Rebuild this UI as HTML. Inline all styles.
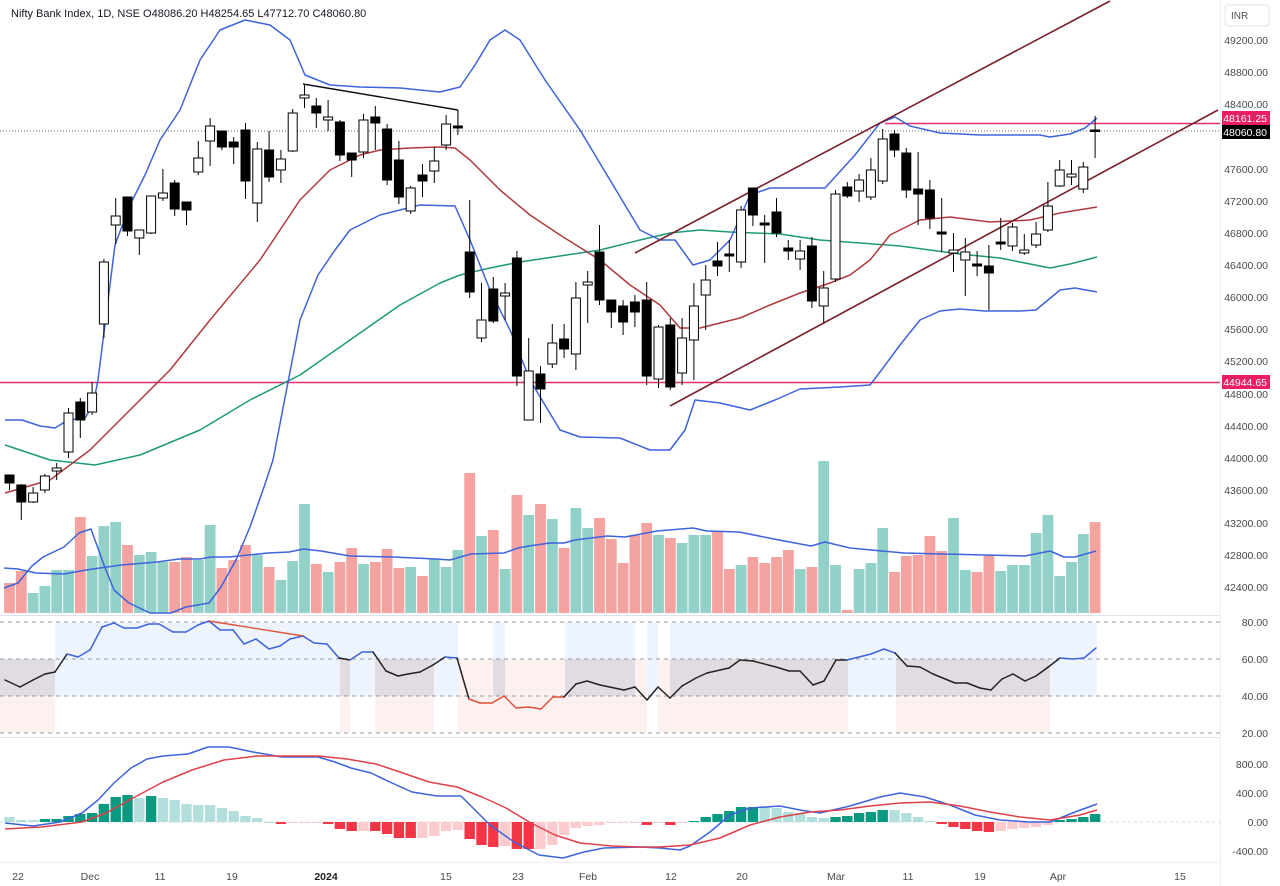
<!DOCTYPE html>
<html><head><meta charset="utf-8"><style>
html,body{margin:0;padding:0;background:#fff;}
svg{display:block;font-family:"Liberation Sans",sans-serif;}
</style></head><body>
<svg id="s" width="1280" height="886" viewBox="0 0 1280 886" xmlns="http://www.w3.org/2000/svg">
<rect width="1280" height="886" fill="#fff"/>
<g id="bg"></g>
<g id="g"></g>
<line x1="0" y1="615.5" x2="1220" y2="615.5" stroke="#e0e3eb"/>
<line x1="0" y1="737.5" x2="1220" y2="737.5" stroke="#e0e3eb"/>
<line x1="1220.5" y1="0" x2="1220.5" y2="886" stroke="#eceef2"/>
<line x1="0" y1="862.5" x2="1220" y2="862.5" stroke="#eceef2"/>
<text x="11" y="17" font-size="11" fill="#131722">Nifty Bank Index, 1D, NSE  O48086.20  H48254.65  L47712.70  C48060.80</text>
<rect x="1225" y="5" width="44" height="21" rx="3" fill="#fff" stroke="#e0e3eb"/>
<text x="1231" y="19" font-size="10" fill="#555">INR</text>
<g font-size="10.5" fill="#4a4a4a" text-anchor="end">
<text x="1268" y="44">49200.00</text>
<text x="1268" y="76">48800.00</text>
<text x="1268" y="108">48400.00</text>
<text x="1268" y="173">47600.00</text>
<text x="1268" y="205">47200.00</text>
<text x="1268" y="237">46800.00</text>
<text x="1268" y="269">46400.00</text>
<text x="1268" y="301">46000.00</text>
<text x="1268" y="333">45600.00</text>
<text x="1268" y="365">45200.00</text>
<text x="1268" y="398">44800.00</text>
<text x="1268" y="430">44400.00</text>
<text x="1268" y="462">44000.00</text>
<text x="1268" y="494">43600.00</text>
<text x="1268" y="527">43200.00</text>
<text x="1268" y="559">42800.00</text>
<text x="1268" y="591">42400.00</text>
<text x="1268" y="626">80.00</text>
<text x="1268" y="663">60.00</text>
<text x="1268" y="700">40.00</text>
<text x="1268" y="737">20.00</text>
<text x="1268" y="768">800.00</text>
<text x="1268" y="797">400.00</text>
<text x="1268" y="826">0.00</text>
<text x="1268" y="855">-400.00</text>
</g>
<rect x="1222" y="111" width="48" height="14" fill="#e91e63"/>
<text x="1267" y="122" font-size="10.5" fill="#fff" text-anchor="end">48161.25</text>
<rect x="1222" y="125" width="48" height="14" fill="#000"/>
<text x="1267" y="136" font-size="10.5" fill="#fff" text-anchor="end">48060.80</text>
<rect x="1222" y="375" width="48" height="14" fill="#e91e63"/>
<text x="1267" y="386" font-size="10.5" fill="#fff" text-anchor="end">44944.65</text>
<g font-size="10.5" fill="#4a4a4a" text-anchor="middle">
<text x="18" y="880">22</text>
<text x="90" y="880">Dec</text>
<text x="160" y="880">11</text>
<text x="232" y="880">19</text>
<text x="326" y="880" font-weight="bold" fill="#222">2024</text>
<text x="446" y="880">15</text>
<text x="518" y="880">23</text>
<text x="588" y="880">Feb</text>
<text x="671" y="880">12</text>
<text x="742" y="880">20</text>
<text x="836" y="880">Mar</text>
<text x="908" y="880">11</text>
<text x="980" y="880">19</text>
<text x="1058" y="880">Apr</text>
<text x="1180" y="880">15</text>
</g>
</svg>
<script>
var NS="http://www.w3.org/2000/svg";
var G=document.getElementById("g"),BG=document.getElementById("bg");
function el(p,t,a){var e=document.createElementNS(NS,t);for(var k in a)e.setAttribute(k,a[k]);p.appendChild(e);return e;}
function X(i){return 9.5+11.8*(i-1);}
function pl(pts,c,w,dash){el(G,"polyline",{points:pts.map(function(p){return p.join(",")}).join(" "),fill:"none",stroke:c,"stroke-width":w||1.5,"stroke-linejoin":"round","stroke-dasharray":dash||"none"});}
// RSI bands
var bands=[[0,55,"B0"],[55,340,"A"],[340,350,"B"],[350,375,"A"],[375,434,"B"],[434,458,"A"],[458,493,"C"],[493,505,"B"],[505,565,"C"],[565,635,"B"],[635,647,"C0"],[647,658,"A"],[658,670,"C0"],[670,848,"B"],[848,896,"A"],[896,1050,"B"],[1050,1097,"A"]];
var BL="#eef4fd",GR="#e0dce2",PK="#fdf1ef";
bands.forEach(function(b){var x=b[0],w=b[1]-b[0];
 if(b[2]=="A"){el(BG,"rect",{x:x,y:622,width:w,height:74,fill:BL});}
 if(b[2]=="B"||b[2]=="B0"){if(b[2]=="B")el(BG,"rect",{x:x,y:622,width:w,height:37,fill:BL});el(BG,"rect",{x:x,y:659,width:w,height:37,fill:GR});el(BG,"rect",{x:x,y:696,width:w,height:37,fill:PK});}
 if(b[2]=="C"||b[2]=="C0"){el(BG,"rect",{x:x,y:659,width:w,height:74,fill:PK});}
});
[622,659,696,733].forEach(function(y){el(BG,"line",{x1:0,y1:y,x2:1220,y2:y,stroke:"#787b86","stroke-width":0.8,"stroke-dasharray":"4,4"});});
el(BG,"line",{x1:0,y1:822,x2:1220,y2:822,stroke:"#b0b3bb","stroke-width":0.6,"stroke-dasharray":"3,3"});
// volume
var vol=[[583,0],[571,0],[593,1],[586,1],[570,1],[570,1],[517,0],[556,1],[526,1],[522,1],[545,0],[555,1],[552,1],[562,1],[562,0],[557,0],[560,1],[525,1],[568,0],[560,0],[545,0],[555,1],[567,0],[580,1],[561,1],[504,1],[564,0],[572,1],[562,0],[548,0],[564,1],[562,0],[549,0],[568,0],[567,1],[576,0],[559,1],[567,1],[550,1],[473,0],[536,1],[530,0],[569,1],[495,0],[515,1],[504,0],[519,1],[548,0],[508,1],[528,1],[518,0],[539,0],[563,0],[535,0],[523,0],[535,1],[538,0],[543,1],[535,1],[535,1],[531,0],[569,0],[565,1],[557,0],[563,0],[557,0],[550,0],[569,1],[567,0],[461,1],[565,1],[610,0],[569,1],[563,1],[528,1],[572,0],[556,0],[555,0],[536,0],[551,0],[518,1],[570,1],[572,0],[555,0],[571,1],[565,1],[565,1],[533,1],[515,1],[576,1],[562,1],[534,1],[522,0]];
vol.forEach(function(v,k){var x=X(k+1);el(G,"rect",{x:x-5.4,y:v[0],width:10.8,height:613-v[0],fill:v[1]?"#92d1c7":"#f5a3a0"});});
pl([[4,568],[18,569],[36,573],[64,574],[86,570],[121,565],[157,562],[179,559],[200,559],[211,557],[229,557],[268,553],[289,552],[304,549],[321,551],[350,556],[393,557],[436,559],[450,560],[471,554],[504,553],[518,548],[529,546],[550,543],[564,543],[575,540],[607,536],[625,537],[657,531],[693,528],[707,531],[739,532],[779,540],[811,546],[825,542],[850,548],[882,551],[904,553],[943,554],[1025,556],[1050,551],[1064,557],[1075,557],[1096,551]],"#3d63dd",1.5);
// horizontal lines
el(G,"line",{x1:0,y1:131,x2:1220,y2:131,stroke:"#333","stroke-width":0.8,"stroke-dasharray":"1,2"});
el(G,"line",{x1:0,y1:382.5,x2:1220,y2:382.5,stroke:"#e0306a","stroke-width":1.5});
el(G,"line",{x1:885,y1:123.5,x2:1220,y2:123.5,stroke:"#e0306a","stroke-width":1.5});
// MAs / BB
pl([[5,445],[50,460],[95,465],[140,455],[200,430],[250,400],[300,375],[350,340],[400,305],[440,283],[460,275],[490,268],[520,262],[560,256],[600,250],[640,240],[670,233],[700,230],[730,232],[780,234],[820,240],[900,246],[960,254],[1000,258],[1050,268],[1070,264],[1097,257]],"#1e9a78",1.5);
pl([[5,493],[50,480],[90,450],[130,410],[170,370],[210,320],[260,260],[300,200],[330,170],[360,155],[380,150],[410,148],[440,147],[455,148],[470,160],[500,190],[530,215],[560,235],[600,260],[630,285],[660,305],[680,328],[700,328],[740,318],[770,305],[800,293],[830,283],[850,275],[870,260],[890,235],[920,220],[950,217],[990,222],[1030,220],[1060,213],[1097,207]],"#b03a3f",1.5);
pl([[5,420],[22,420],[40,426],[55,428],[68,420],[85,418],[93,405],[98,380],[103,340],[115,245],[130,205],[145,175],[160,140],[180,110],[200,60],[220,30],[245,20],[270,25],[290,40],[305,75],[330,85],[360,87],[400,88],[440,92],[460,87],[475,65],[490,40],[505,30],[520,40],[545,80],[580,130],[610,180],[640,230],[660,240],[675,240],[693,265],[710,260],[730,240],[750,195],[770,188],[800,188],[825,188],[855,155],[880,123],[895,117],[910,126],[940,133],[980,135],[1040,135],[1050,137],[1070,134],[1085,128],[1097,118]],"#3d63dd",1.5);
pl([[4,588],[18,583],[32,566],[43,557],[64,547],[79,533],[91,529],[104,565],[114,590],[129,603],[150,613],[171,613],[186,607],[209,603],[221,587],[236,560],[250,527],[264,487],[273,460],[300,320],[318,275],[335,250],[350,230],[380,215],[400,210],[420,205],[455,206],[470,240],[490,290],[510,330],[530,380],[560,430],[580,437],[620,438],[650,450],[670,450],[685,430],[695,400],[720,403],[750,410],[775,400],[800,389],[840,387],[870,385],[880,372],[900,345],[920,320],[940,311],[960,309],[985,311],[1020,311],[1036,310],[1060,290],[1075,288],[1097,292]],"#3d63dd",1.5);
// trend lines
el(G,"line",{x1:635,y1:253,x2:1110,y2:1,stroke:"#7a1e2a","stroke-width":1.6});
el(G,"line",{x1:670,y1:406,x2:1218,y2:110,stroke:"#7a1e2a","stroke-width":1.6});
el(G,"line",{x1:303,y1:84,x2:458,y2:110,stroke:"#111","stroke-width":1.4});
el(G,"line",{x1:458,y1:110,x2:458,y2:125,stroke:"#111","stroke-width":1});
// candles [bt,bb,wt,wb,bull]
var C=[[475,483,475,490,0],[485,502,484,520,0],[493,502,487,503,1],[476,490,474,493,1],[468,471,463,480,1],[413,452,408,458,1],[402,420,398,438,0],[393,412,382,415,1],[262,324,259,338,1],[216,225,198,244,1],[197,231,197,236,0],[230,238,230,255,1],[196,233,196,234,1],[193,198,169,201,1],[183,209,180,216,0],[202,210,202,225,0],[158,172,141,175,1],[126,141,118,166,1],[131,147,131,150,0],[142,147,137,164,0],[130,181,123,199,0],[149,203,142,222,1],[150,177,131,182,0],[159,170,150,183,1],[113,151,109,152,1],[95,98,85,108,1],[106,113,98,128,0],[117,120,100,131,1],[122,155,120,161,0],[153,160,153,177,0],[120,152,114,158,1],[117,123,106,150,0],[129,180,124,185,0],[160,197,141,204,0],[188,211,186,214,1],[175,181,164,197,0],[161,171,147,183,1],[124,145,115,150,1],[126,128,110,135,0],[252,292,200,298,0],[320,338,283,342,1],[289,321,277,323,0],[293,296,283,320,1],[258,376,251,386,0],[371,420,338,420,1],[374,389,366,423,0],[343,364,324,368,1],[339,349,324,358,0],[298,354,282,370,1],[282,285,271,323,1],[252,300,225,305,0],[300,312,300,328,0],[306,322,300,335,0],[302,312,295,327,0],[300,376,282,385,0],[327,379,325,388,1],[325,387,318,390,0],[338,373,318,385,1],[306,340,283,380,1],[280,295,265,330,1],[261,266,242,276,0],[254,256,240,272,0],[210,262,206,268,1],[188,215,188,226,0],[223,225,215,263,0],[212,233,198,237,0],[248,251,240,260,0],[251,259,240,270,1],[246,301,237,308,0],[288,306,271,323,1],[194,279,190,282,1],[187,196,182,198,0],[180,191,174,202,1],[170,197,158,200,1],[139,181,129,184,1],[134,150,130,157,0],[153,190,148,198,0],[189,194,152,225,0],[190,218,180,229,0],[232,234,198,252,0],[250,253,233,272,1],[252,260,238,296,1],[264,266,251,276,0],[266,273,245,310,0],[242,244,218,250,0],[227,246,223,251,1],[250,253,234,255,1],[234,245,222,248,1],[206,230,182,232,1],[170,186,160,187,1],[174,177,160,185,1],[167,189,162,193,1],[130,131,116,158,0]];
C.forEach(function(c,k){var x=X(k+1);
 el(G,"line",{x1:x,y1:c[2],x2:x,y2:c[3],stroke:"#000","stroke-width":1});
 var h=Math.max(c[1]-c[0],1.5);
 el(G,"rect",{x:x-4.5,y:c[0],width:9,height:h,fill:c[4]?"#fff":"#000",stroke:"#000","stroke-width":1});
});
// RSI line segments
var rsi=[[5,680],[20,687],[33,680],[45,674],[55,672],[67,654],[78,657],[90,650],[102,627],[114,623],[124,628],[137,628],[149,624],[159,624],[173,632],[186,632],[198,625],[209,621],[220,630],[233,630],[244,644],[256,639],[269,649],[280,646],[290,639],[303,636],[314,643],[327,644],[339,658],[350,660],[362,652],[373,652],[386,671],[398,676],[408,674],[420,672],[433,665],[445,657],[457,658],[469,699],[480,703],[492,703],[504,696],[516,708],[529,707],[541,709],[553,697],[564,697],[576,684],[587,681],[600,685],[624,690],[635,687],[647,700],[658,687],[670,698],[682,686],[696,678],[707,673],[729,668],[740,660],[753,661],[776,667],[789,671],[800,671],[813,685],[824,681],[836,660],[847,660],[871,654],[884,649],[895,653],[907,666],[920,667],[933,674],[955,683],[967,683],[980,688],[991,690],[1002,679],[1013,674],[1025,681],[1036,676],[1047,668],[1060,658],[1073,659],[1084,658],[1096,648]];
for(var i=0;i<rsi.length-1;i++){var a=rsi[i],b=rsi[i+1],m=(a[1]+b[1])/2;var col=m<659?"#3d63dd":(m>696?"#e0503a":"#222");
 el(G,"line",{x1:a[0],y1:a[1],x2:b[0],y2:b[1],stroke:col,"stroke-width":1.5,"stroke-linecap":"round"});}
el(G,"line",{x1:209,y1:621,x2:303,y2:636,stroke:"#e0503a","stroke-width":1.4});
// MACD histogram
var H=[[817,'l'],[820,'l'],[820,'l'],[819,'d'],[819,'d'],[816,'d'],[814,'d'],[813,'d'],[804,'d'],[797,'d'],[795,'d'],[798,'l'],[796,'d'],[798,'l'],[800,'l'],[804,'l'],[805,'l'],[805,'l'],[808,'l'],[811,'l'],[816,'l'],[818,'l'],[822,'l'],[824,'r'],[823,'p'],[823,'p'],[823,'p'],[824,'r'],[829,'r'],[831,'r'],[831,'p'],[831,'r'],[834,'r'],[838,'r'],[838,'r'],[838,'p'],[836,'p'],[831,'p'],[830,'p'],[839,'r'],[845,'r'],[847,'r'],[846,'p'],[849,'r'],[849,'r'],[849,'p'],[845,'p'],[835,'p'],[828,'p'],[826,'p'],[825,'p'],[823,'p'],[823,'p'],[822,'p'],[825,'r'],[822,'p'],[825,'r'],[822,'p'],[821,'d'],[817,'d'],[814,'d'],[811,'d'],[807,'d'],[807,'d'],[807,'l'],[808,'l'],[812,'l'],[813,'l'],[817,'l'],[818,'l'],[817,'d'],[816,'d'],[813,'d'],[812,'d'],[810,'d'],[810,'l'],[813,'l'],[817,'l'],[821,'l'],[824,'r'],[827,'r'],[829,'r'],[831,'r'],[832,'r'],[831,'p'],[829,'p'],[828,'p'],[827,'p'],[825,'p'],[820,'d'],[819,'d'],[817,'d'],[814,'d']];
var HC={l:"#b2dfdb",d:"#089981",r:"#f23645",p:"#fccbcd"};
H.forEach(function(h,k){var x=X(k+1),y=h[0];var t=Math.min(y,822),bh=Math.abs(y-822);if(bh<1)bh=1;
 el(G,"rect",{x:x-5.2,y:t,width:10.4,height:bh,fill:HC[h[1]]});});
pl([[5,823],[33,826],[60,822],[82,813],[98,800],[114,783],[131,768],[147,759],[163,756],[188,754],[208,747],[229,747],[253,752],[282,757],[318,757],[335,762],[351,768],[371,773],[392,783],[412,792],[437,796],[461,796],[490,825],[514,842],[539,855],[563,858],[584,852],[604,848],[640,847],[660,848],[680,850],[690,846],[710,832],[730,815],[750,808],[780,806],[800,810],[820,813],[850,806],[880,797],[900,793],[925,797],[950,805],[975,815],[1000,820],[1030,822],[1050,822],[1075,812],[1097,804]],"#3d63dd",1.5);
pl([[5,829],[41,827],[82,822],[106,813],[135,797],[163,782],[192,770],[224,760],[257,756],[286,756],[318,756],[347,759],[376,764],[400,772],[429,782],[457,787],[482,797],[506,808],[531,823],[555,835],[580,843],[612,846],[640,847],[660,847],[690,845],[720,838],[750,825],[780,817],[810,812],[840,810],[870,806],[900,803],[930,802],[960,806],[990,812],[1020,817],[1050,820],[1080,815],[1097,810]],"#e0404a",1.5);
</script>
</body></html>
